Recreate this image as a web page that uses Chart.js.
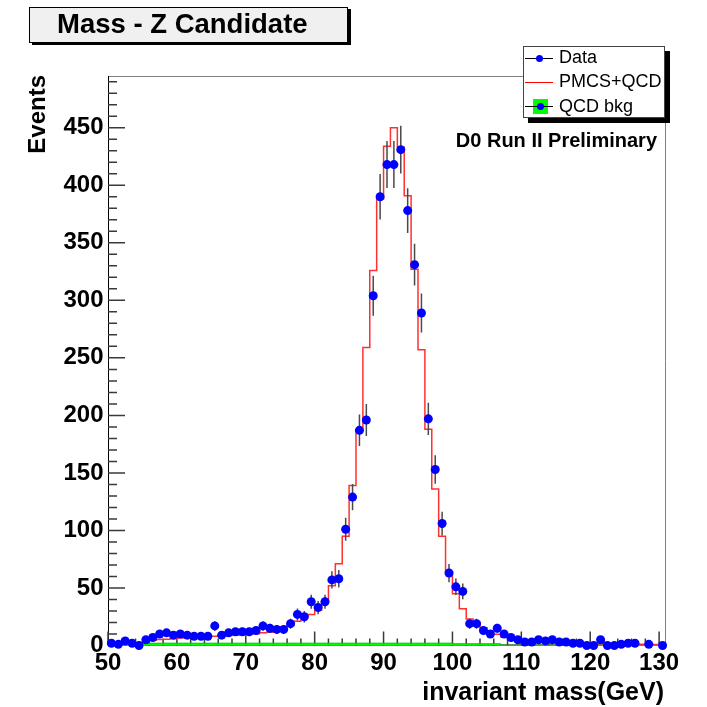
<!DOCTYPE html>
<html>
<head>
<meta charset="utf-8">
<title>Mass - Z Candidate</title>
<script src="https://cdn.jsdelivr.net/npm/chart.js@4.4.1/dist/chart.umd.min.js"></script>
<style>
  html, body { margin: 0; padding: 0; background: #fff; }
  #wrap { position: relative; width: 707px; height: 707px; overflow: hidden;
          font-family: "Liberation Sans", Arial, Helvetica, sans-serif; color: #000; }
  #chart { position: absolute; left: 0; top: 0; }
  .txt { position: absolute; white-space: nowrap; line-height: 1; }
  .b { font-weight: bold; }
  #titlebox { position: absolute; left: 29px; top: 7px; width: 319px; height: 36px; box-sizing: border-box;
              background: #f0f0f0; border: 1px solid #000; box-shadow: 3px 2px 0 #000; }
  #legend { position: absolute; left: 523px; top: 46px; width: 142px; height: 72px; box-sizing: border-box;
            background: #fff; border: 1px solid #444; box-shadow: 5px 5px 0 #000; }
  .mk { position: absolute; }
  .dot { position: absolute; width: 7px; height: 7px; border-radius: 50%; background: #0000ff; }
</style>
</head>
<body>
<div id="wrap">
  <canvas id="chart" width="707" height="707"></canvas>

  <div id="titlebox"></div>
  <div class="txt b" style="left:57px; top:10px; font-size:27.5px;">Mass - Z Candidate</div>

  <div class="txt b" style="left:24.7px; top:275px; width:200px; text-align:right; font-size:24px;
       transform-origin:0 0; transform:rotate(-90deg);">Events</div>

  <div class="txt b" style="right:50px; top:129.5px; font-size:20px;">D0 Run II Preliminary</div>
  <div class="txt b" style="right:43px; top:679px; font-size:25px;">invariant mass(GeV)</div>

  <div id="legend"></div>
  <div class="mk" style="left:525px; top:58px; width:28px; height:1px; background:#000;"></div>
  <div class="dot" style="left:535.5px; top:55px;"></div>
  <div class="txt" style="left:559px; top:48.3px; font-size:18px;">Data</div>

  <div class="mk" style="left:525px; top:82px; width:28px; height:1px; background:#ff0000;"></div>
  <div class="txt" style="left:559px; top:71.8px; font-size:18px;">PMCS+QCD</div>

  <div class="mk" style="left:533px; top:99px; width:15px; height:15px; background:#00ff00;"></div>
  <div class="mk" style="left:525px; top:106px; width:28px; height:1px; background:#000;"></div>
  <div class="dot" style="left:537px; top:103px;"></div>
  <div class="txt" style="left:559px; top:97px; font-size:18px;">QCD bkg</div>
</div>

<script>
// bin centres (GeV), 1 GeV bins from 50 to 131
const massBins = [
  50.5, 51.5, 52.5, 53.5, 54.5, 55.5, 56.5, 57.5, 58.5, 59.5,
  60.5, 61.5, 62.5, 63.5, 64.5, 65.5, 66.5, 67.5, 68.5, 69.5,
  70.5, 71.5, 72.5, 73.5, 74.5, 75.5, 76.5, 77.5, 78.5, 79.5,
  80.5, 81.5, 82.5, 83.5, 84.5, 85.5, 86.5, 87.5, 88.5, 89.5,
  90.5, 91.5, 92.5, 93.5, 94.5, 95.5, 96.5, 97.5, 98.5, 99.5,
  100.5, 101.5, 102.5, 103.5, 104.5, 105.5, 106.5, 107.5, 108.5, 109.5,
  110.5, 111.5, 112.5, 113.5, 114.5, 115.5, 116.5, 117.5, 118.5, 119.5,
  120.5, 121.5, 122.5, 123.5, 124.5, 125.5, 126.5, 127.5, 128.5, 129.5,
  130.5
];

// data points (events per bin)
const dataEvents = [
  2, 1, 4, 2, 0, 5, 7, 10, 11, 9,
  10, 9, 8, 8, 8, 17, 9, 11, 12, 12,
  12, 13, 17, 15, 14, 14, 19, 27, 25, 38,
  33, 38, 57, 58, 101, 129, 187, 196, 304, 390,
  418, 418, 431, 378, 331, 289, 197, 153, 106, 63,
  51, 47, 19, 19, 13, 10, 15, 10, 7, 5,
  3, 3, 5, 4, 5, 3, 3, 2, 2, 0,
  0, 5, 0, 0, 1, 2, 2, null, 1, null,
  0
];

// PMCS + QCD prediction
const pmcsQcd = [
  0.5, 0.8, 1.2, 2, 2.4, 3.5, 4.5, 5.2, 5.5, 5.8,
  6.5, 6.8, 7, 7.2, 7.5, 8, 8.4, 8.8, 9, 9.3,
  9.8, 10.3, 11, 11.5, 12.5, 16, 17.6, 21, 25.5, 27,
  30.6, 38, 52, 71, 95, 139, 187, 259, 326, 388,
  434, 450, 433, 391, 327, 257, 188, 136, 95, 64,
  45, 32, 23, 20, 15.5, 12.6, 9.7, 7.4, 5.5, 4.5,
  4, 3.6, 3.3, 3, 2.8, 2.6, 2.4, 2.2, 2, 1.8,
  1.7, 1.6, 1.5, 1.4, 1.3, 1.2, 1.1, 1, 1, 0.9,
  0.9
];

// QCD background
const qcdBkg = [
  2, 2, 2, 2, 2, 2, 2, 2, 2, 2,
  2, 2, 2, 2, 2, 2, 2, 2, 2, 2,
  2, 2, 2, 2, 2, 2, 2, 2, 2, 2,
  2, 2, 2, 2, 2, 2, 2, 2, 2, 2,
  2, 2, 2, 2, 2, 2, 2, 2, 2, 2,
  1.5, 1.5, 1.5, 1.5, 1.5, 1.5, 1.5, 0.3, 0.3, 0.3,
  0.3, 0.3, 0.3, 0.3, 0.3, 0.3, 0.3, 0.3, 0.3, 0.3,
  0.3, 0.3, 0.3, 0.3, 0.3, 0.3, 0.3, 0.3, 0.3, 0.3,
  0.3
];

const xTickValues = [50, 60, 70, 80, 90, 100, 110, 120, 130];
const yTickValues = [0, 50, 100, 150, 200, 250, 300, 350, 400, 450];

const FONT = "'Liberation Sans', Arial, Helvetica, sans-serif";

// histogram outline: one point per bin low edge, plus the last upper edge
function stepPoints(values) {
  const pts = massBins.map((c, i) => ({ x: c - 0.5, y: values[i] }));
  pts.push({ x: massBins[massBins.length - 1] + 0.5, y: values[values.length - 1] });
  return pts;
}

// ROOT style frame with ticks pointing into the pad
const rootAxes = {
  id: 'rootAxes',
  beforeDatasetsDraw(chart) {
    const { ctx, chartArea: a, scales: { x, y } } = chart;
    ctx.save();
    ctx.lineWidth = 1;
    ctx.strokeStyle = '#808080';
    ctx.beginPath();
    ctx.moveTo(a.left, a.top + 0.5); ctx.lineTo(a.right, a.top + 0.5);
    ctx.moveTo(a.right - 0.5, a.top); ctx.lineTo(a.right - 0.5, a.bottom);
    ctx.stroke();

    ctx.strokeStyle = '#000';
    ctx.beginPath();
    ctx.moveTo(a.left + 0.5, a.top); ctx.lineTo(a.left + 0.5, a.bottom);
    ctx.moveTo(a.left, a.bottom - 0.5); ctx.lineTo(a.right, a.bottom - 0.5);
    ctx.stroke();

    ctx.strokeStyle = '#3a3a3a';
    ctx.lineWidth = 1.5;
    ctx.beginPath();
    for (let v = x.min; v <= x.max; v += 2) {
      const px = x.getPixelForValue(v);
      const len = (v % 10 === 0) ? 14 : 7;
      ctx.moveTo(px, a.bottom); ctx.lineTo(px, a.bottom - len);
    }
    for (let v = 10; v <= y.max; v += 10) {
      const py = y.getPixelForValue(v);
      const len = (v % 50 === 0) ? 17 : 9;
      ctx.moveTo(a.left, py); ctx.lineTo(a.left + len, py);
    }
    ctx.stroke();
    ctx.restore();
  }
};

// sqrt(N) error bars under the data markers
const errorBars = {
  id: 'errorBars',
  beforeDatasetDraw(chart, args) {
    if (args.index !== 2) return;
    const { ctx, scales: { x, y } } = chart;
    ctx.save();
    ctx.strokeStyle = '#4a4a4a';
    ctx.lineWidth = 1.5;
    ctx.beginPath();
    massBins.forEach((c, i) => {
      const n = dataEvents[i];
      if (n == null || n <= 0) return;
      const e = Math.sqrt(n);
      const px = x.getPixelForValue(c);
      ctx.moveTo(px, y.getPixelForValue(n + e));
      ctx.lineTo(px, y.getPixelForValue(Math.max(0, n - e)));
    });
    ctx.stroke();
    ctx.restore();
  }
};

new Chart(document.getElementById('chart'), {
  type: 'line',
  data: {
    datasets: [
      {
        label: 'QCD bkg',
        data: stepPoints(qcdBkg),
        stepped: true,
        fill: 'origin',
        backgroundColor: '#00ff00',
        borderColor: '#00c000',
        borderWidth: 1,
        pointRadius: 0,
        order: 2
      },
      {
        label: 'PMCS+QCD',
        data: stepPoints(pmcsQcd),
        stepped: true,
        fill: false,
        borderColor: '#ff3030',
        borderWidth: 1.5,
        pointRadius: 0,
        order: 1
      },
      {
        label: 'Data',
        data: massBins.map((c, i) => ({ x: c, y: dataEvents[i] })),
        showLine: false,
        pointRadius: 4.5,
        pointBackgroundColor: '#0000ff',
        pointBorderColor: '#0000ff',
        pointBorderWidth: 0,
        clip: 8,
        order: 0
      }
    ]
  },
  options: {
    responsive: false,
    devicePixelRatio: 1,
    animation: false,
    events: [],
    layout: { padding: { left: 0, top: 76, right: 41, bottom: 0 } },
    plugins: {
      legend: { display: false },
      tooltip: { enabled: false },
      title: { display: false }
    },
    scales: {
      x: {
        type: 'linear',
        min: 50,
        max: 131,
        afterFit(s) { s.height = 61.5; },
        afterBuildTicks(s) { s.ticks = xTickValues.map(v => ({ value: v })); },
        grid: { display: false, drawTicks: false },
        border: { display: false },
        ticks: { color: '#000', padding: 3, maxRotation: 0, autoSkip: false,
                 font: { family: FONT, size: 24, weight: 'bold' } }
      },
      y: {
        type: 'linear',
        min: 0,
        max: 495,
        afterFit(s) { s.width = 108; },
        afterBuildTicks(s) { s.ticks = yTickValues.map(v => ({ value: v })); },
        grid: { display: false, drawTicks: false },
        border: { display: false },
        ticks: { color: '#000', padding: 4.5, autoSkip: false,
                 font: { family: FONT, size: 24, weight: 'bold' } }
      }
    }
  },
  plugins: [rootAxes, errorBars]
});
</script>
</body>
</html>
